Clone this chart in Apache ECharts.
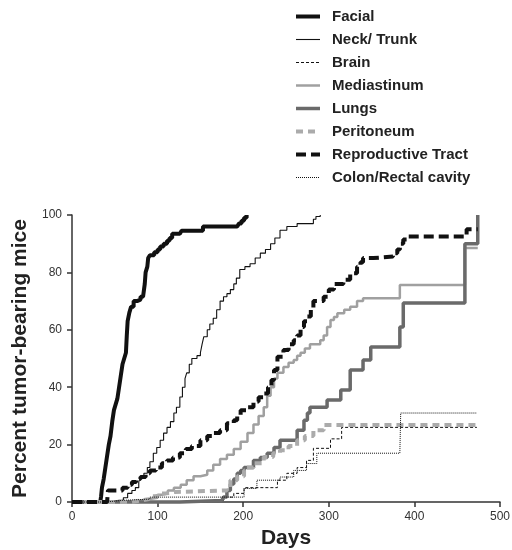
<!DOCTYPE html>
<html>
<head>
<meta charset="utf-8">
<script src="https://cdn.jsdelivr.net/npm/echarts@6/dist/echarts.min.js"></script>
<style>
  html, body { margin: 0; padding: 0; background: #fff; }
  #chart { width: 512px; height: 550px; }
</style>
</head>
<body>
<div id="chart"></div>
<script>
// [day, percent] pairs
const facial = [[0,0],[33,0],[34,2],[35,5],[37,8],[39,12],[41,16],[43,20],[45,23],[47,28],[49,32],[51,34],[53,36],[55,40],[57,44],[59,48],[61,50],[63,52],[64,58],[65,63],[67,66],[69,68],[72,70],[76,70.5],[80,71.5],[83,72],[85,76],[86,80],[88,82],[89,85],[91,86],[96,87],[100,88],[103,89],[107,90],[111,91],[114,92],[117,93.5],[126,93.5],[128,94.5],[150,94.5],[153,96],[193,96],[195,97],[198,98],[201,99],[204,100]];
const neckTrunk = [[0,0],[37,0],[40,0.6],[55,0.6],[60,1.5],[65,3],[70,4],[74,5],[78,7],[80,8.7],[84,10],[88,12],[91,14],[95,17],[99,19],[103,21.5],[107,24],[111,26],[115,28],[119,31],[122,33],[126,36.6],[129,40],[132,43],[134,45],[137,48],[140,50],[146,51],[150,52],[152,55],[154,57.6],[158,60],[161,62],[165,64],[169,67],[173,70],[177,71.5],[181,72.6],[185,74],[189,76],[192,78],[196,81],[202,82],[208,83],[214,85],[220,86.7],[226,88],[232,90],[237,92],[243,94.7],[251,96],[263,97],[278,97],[282,98.5],[285,99.5],[290,100]];
const brain = [[0,0],[120,0],[140,0.5],[177,0.5],[179,1.7],[189,3],[201,5],[240,7.6],[251,10],[263,12],[274,14.5],[282,18.7],[302,22],[315,26],[473,26]];
const mediastinum = [[0,0],[50,0],[60,0.5],[80,1],[90,1.5],[100,2.5],[105,3],[112,4],[119,5],[127,6],[134,7.6],[142,9],[150,9.5],[158,11],[165,13],[173,15],[181,16.5],[189,18.5],[197,21],[205,24],[212,27],[218,30],[224,33],[228,37],[232,40],[236,43],[240,45],[247,47],[253,48.5],[259,49.5],[263,51],[267,52],[272,53.5],[278,55],[290,56.4],[294,58],[298,61],[302,63.4],[306,64.5],[310,65.8],[318,67],[325,68],[333,70],[340,71],[383,75.6],[459,88.5],[474,88.5]];
const lungs = [[0,0],[120,0],[126,0.5],[175,0.5],[177,1.7],[181,4],[185,6.3],[189,8],[193,10],[197,11],[201,12],[212,14.5],[220,15.5],[228,17],[236,19],[243,21.5],[263,25],[271,28.5],[275,31],[278,33],[298,35.5],[314,39],[325,46],[340,49.5],[349,54],[383,61],[387,69.3],[459,90],[474,100]];
const peritoneum = [[0,0],[60,0],[70,0.5],[80,1],[90,2],[100,3],[110,3.5],[120,4],[177,4],[181,5],[185,7.6],[193,9],[201,11],[204,12],[212,13.5],[224,15.7],[235,17],[243,18],[253,19.5],[263,21.5],[272,23],[282,25],[294,26.8],[473,26.8]];
const reproductive = [[0,0],[41,0],[42,4],[55,4],[59,5],[65,6],[70,7],[75,8],[80,8.7],[86,10],[91,11],[98,12],[105,13.5],[111,14.5],[118,15.5],[126,17],[133,18.5],[140,19.5],[150,21.5],[158,23],[165,24],[173,25],[181,27.4],[189,28.5],[193,30],[197,32],[205,33],[212,35],[218,36.5],[224,37.8],[229,40],[233,42.5],[236,46],[240,50.6],[247,53],[253,55],[259,56.4],[263,58],[267,61],[271,63],[275,64.6],[279,67],[282,70],[294,71.5],[300,74],[306,76],[317,77.4],[325,79.7],[333,82],[337,83.5],[340,85],[352,85.5],[375,86.7],[380,88],[383,90],[387,91.5],[391,92.5],[457,92.5],[461,95],[474,95]];
const colonRectal = [[0,0],[30,0],[40,0.6],[60,1],[91,1.7],[177,1.7],[201,4.7],[216,7.6],[243,8.7],[259,11],[274,13.4],[286,17],[383,17],[384,31],[473,31]];

const xTicks = [0, 500, 100];
const yTicks = [0, 100, 20];

const styles = [
  ['Facial', facial, '#111', 4, 'solid'],
  ['Neck/ Trunk', neckTrunk, '#111', 1.1, 'solid'],
  ['Brain', brain, '#111', 1, [3, 2]],
  ['Mediastinum', mediastinum, '#a0a0a0', 2.5, 'solid'],
  ['Lungs', lungs, '#6a6a6a', 3.5, 'solid'],
  ['Peritoneum', peritoneum, '#ababab', 4, [7, 5]],
  ['Reproductive Tract', reproductive, '#111', 4, [10, 5]],
  ['Colon/Rectal cavity', colonRectal, '#111', 1, [1, 1]]
];

const chart = echarts.init(document.getElementById('chart'));
chart.setOption({
  animation: false,
  textStyle: { fontFamily: 'Arial, "Liberation Sans", sans-serif' },
  legend: {
    orient: 'vertical',
    left: 294,
    top: 9,
    padding: 0,
    itemWidth: 24,
    itemHeight: 12,
    itemGap: 8,
    itemStyle: { opacity: 0 },
    textStyle: { fontSize: 15, fontWeight: 'bold', color: '#222', lineHeight: 15, padding: [0, 0, 0, 7] },
    data: styles.map(s => ({
      name: s[0],
      lineStyle: { color: s[2], width: s[3], type: s[4] }
    }))
  },
  grid: { left: 72, right: 12, top: 215, bottom: 48, outerBoundsMode: 'none' },
  xAxis: {
    type: 'value', min: xTicks[0], max: xTicks[1], interval: xTicks[2],
    name: 'Days', nameLocation: 'middle', nameGap: 26,
    nameTextStyle: { fontSize: 21, fontWeight: 'bold', color: '#222' },
    axisLine: { lineStyle: { color: '#333', width: 1.5 } },
    axisTick: { length: 5, lineStyle: { color: '#333', width: 1.5 } },
    axisLabel: { fontSize: 12, color: '#333', margin: 9 },
    splitLine: { show: false }
  },
  yAxis: {
    type: 'value', min: yTicks[0], max: yTicks[1], interval: yTicks[2],
    name: 'Percent tumor-bearing mice', nameLocation: 'middle', nameGap: 34,
    nameTextStyle: { fontSize: 21, fontWeight: 'bold', color: '#222' },
    axisLine: { show: true, lineStyle: { color: '#333', width: 1.5 } },
    axisTick: { show: true, length: 5, lineStyle: { color: '#333', width: 1.5 } },
    axisLabel: { fontSize: 12, color: '#333', margin: 10 },
    splitLine: { show: false }
  },
  series: styles.map(s => ({
    name: s[0],
    type: 'line',
    step: 'end',
    data: s[1],
    symbol: 'none',
    clip: false,
    color: s[2],
    lineStyle: { color: s[2], width: s[3], type: s[4] }
  }))
});
</script>
</body>
</html>
